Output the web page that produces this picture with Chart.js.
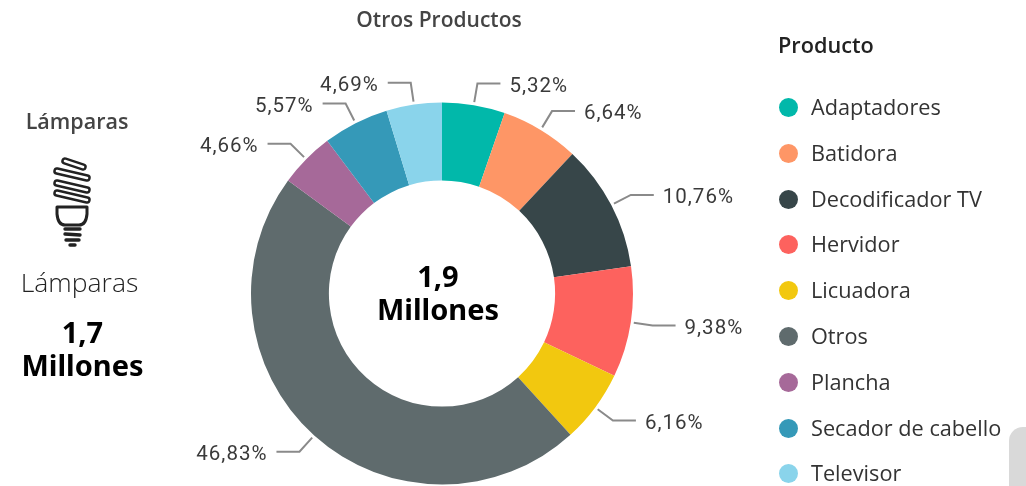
<!DOCTYPE html>
<html>
<head>
<meta charset="utf-8">
<title>Otros Productos</title>
<script src="https://cdn.jsdelivr.net/npm/chart.js@4"></script>
<style>
  html, body { margin: 0; padding: 0; background: #fff; }
  #wrap { position: relative; width: 1026px; height: 486px; overflow: hidden; font-family: "Open Sans", sans-serif; }
  #myChart { position: absolute; left: 0; top: 0; }
  .txt { position: absolute; white-space: nowrap; text-align: center; }
  .big { font-family: "Noto Sans", sans-serif; font-weight: 700; font-size: 29px; line-height: 33px; color: #000; }
  #legend { position: absolute; left: 778px; top: 0; }
  .item { position: absolute; left: 0; white-space: nowrap; font-size: 21.7px; color: #333; line-height: 24px; }
  .dot { position: absolute; left: 1px; top: 3px; width: 19px; height: 19px; border-radius: 50%; }
  .item span { margin-left: 33px; }
  #corner { position: absolute; left: 1009px; top: 427px; width: 40px; height: 80px; background: #d9d9d9; border-radius: 14px 0 0 0; }
</style>
</head>
<body>
<div id="wrap">
  <canvas id="myChart" width="1026" height="486"></canvas>
  <div class="txt" style="left:339px;width:200px;top:5px;font-size:21px;font-weight:600;color:#444;">Otros Productos</div>
  <div class="txt" style="left:0;width:154px;top:106px;font-size:21.5px;font-weight:600;color:#444;">Lámparas</div>
  <svg style="position:absolute;left:40px;top:150px" width="60" height="104" viewBox="40 150 60 104">
    <g fill="none" stroke="#222" stroke-linecap="round" stroke-linejoin="round">
      <g stroke-width="7.5">
        <path d="M65 161 L83 167"/><path d="M57 171 L87 178"/><path d="M57 183 L87 190"/><path d="M57 193 L87 200"/>
      </g>
      <g stroke="#fff" stroke-width="2.6">
        <path d="M65 161 L83 167"/><path d="M57 171 L87 178"/><path d="M57 183 L87 190"/><path d="M57 193 L87 200"/>
      </g>
      <path stroke-width="3" d="M57 207 L87 207 L87 214 Q86 225 79 225 L65 225 Q58 225 57 214 Z"/>
      <path stroke-width="3.4" d="M65 229 L80 229 M65 234 L80 235 M66 240 L79 240"/>
      <path stroke-width="3.4" d="M70 245 L75 245"/>
    </g>
  </svg>
  <div class="txt" style="left:0;width:159px;top:264px;font-size:26.5px;font-weight:300;color:#222;">Lámparas</div>
  <div class="txt big" style="left:0;width:165px;top:314.5px;">1,7<br>Millones</div>
  <div class="txt big" style="left:338px;width:200px;top:259px;">1,9<br>Millones</div>
  <div id="legend"></div>
  <div id="corner"></div>
</div>
<script>
var categories = ['Adaptadores', 'Batidora', 'Decodificador TV', 'Hervidor', 'Licuadora', 'Otros', 'Plancha', 'Secador de cabello', 'Televisor'];
var shares = [5.32, 6.64, 10.76, 9.38, 6.16, 46.83, 4.66, 5.57, 4.69];
var colors = ['#01B8AA', '#FE9666', '#374649', '#FD625E', '#F2C80F', '#5F6B6D', '#A66999', '#3599B8', '#8AD4EB'];

// leader lines and percent labels, placed from each arc's own angle
var leaderLabels = {
  id: 'leaderLabels',
  afterDatasetsDraw: function (chart) {
    var c = chart.ctx;
    var arcs = chart.getDatasetMeta(0).data;
    c.save();
    c.font = '20.5px Roboto, sans-serif';
    c.letterSpacing = '1px';
    c.textBaseline = 'middle';
    arcs.forEach(function (arc, i) {
      var mid = (arc.startAngle + arc.endAngle) / 2;
      var r = arc.outerRadius;
      var x1 = arc.x + Math.cos(mid) * (r + 3);
      var y1 = arc.y + Math.sin(mid) * (r + 3);
      var x2 = arc.x + Math.cos(mid) * (r + 22);
      var y2 = arc.y + Math.sin(mid) * (r + 22);
      var dir = Math.cos(mid) >= 0 ? 1 : -1;
      var x3 = x2 + dir * 23;
      c.strokeStyle = '#8a8a8a';
      c.lineWidth = 2;
      c.beginPath();
      c.moveTo(x1, y1);
      c.lineTo(x2, y2);
      c.lineTo(x3, y2);
      c.stroke();
      c.fillStyle = '#3a3a3a';
      c.textAlign = dir > 0 ? 'left' : 'right';
      c.fillText(shares[i].toFixed(2).replace('.', ',') + '%', x3 + dir * 9, y2 + 3);
    });
    c.restore();
  }
};

var ctx = document.getElementById('myChart').getContext('2d');
var myChart = new Chart(ctx, {
  type: 'doughnut',
  data: {
    labels: categories,
    datasets: [{
      data: shares,
      backgroundColor: colors,
      borderWidth: 0
    }]
  },
  options: {
    responsive: false,
    animation: false,
    radius: 191,
    cutout: 114,
    layout: { padding: { left: 0, right: 142, top: 101, bottom: 0 } },
    plugins: {
      legend: { display: false },
      tooltip: { enabled: false }
    }
  },
  plugins: [leaderLabels]
});

// legend
var legend = document.getElementById('legend');
var head = document.createElement('div');
head.className = 'item';
head.style.top = '33px';
head.style.fontWeight = '600';
head.style.color = '#222';
head.textContent = 'Producto';
legend.appendChild(head);
categories.forEach(function (name, i) {
  var row = document.createElement('div');
  row.className = 'item';
  row.style.top = (95 + i * 45.8) + 'px';
  var dot = document.createElement('div');
  dot.className = 'dot';
  dot.style.background = colors[i];
  var label = document.createElement('span');
  label.textContent = name;
  row.appendChild(dot);
  row.appendChild(label);
  legend.appendChild(row);
});
</script>
</body>
</html>
